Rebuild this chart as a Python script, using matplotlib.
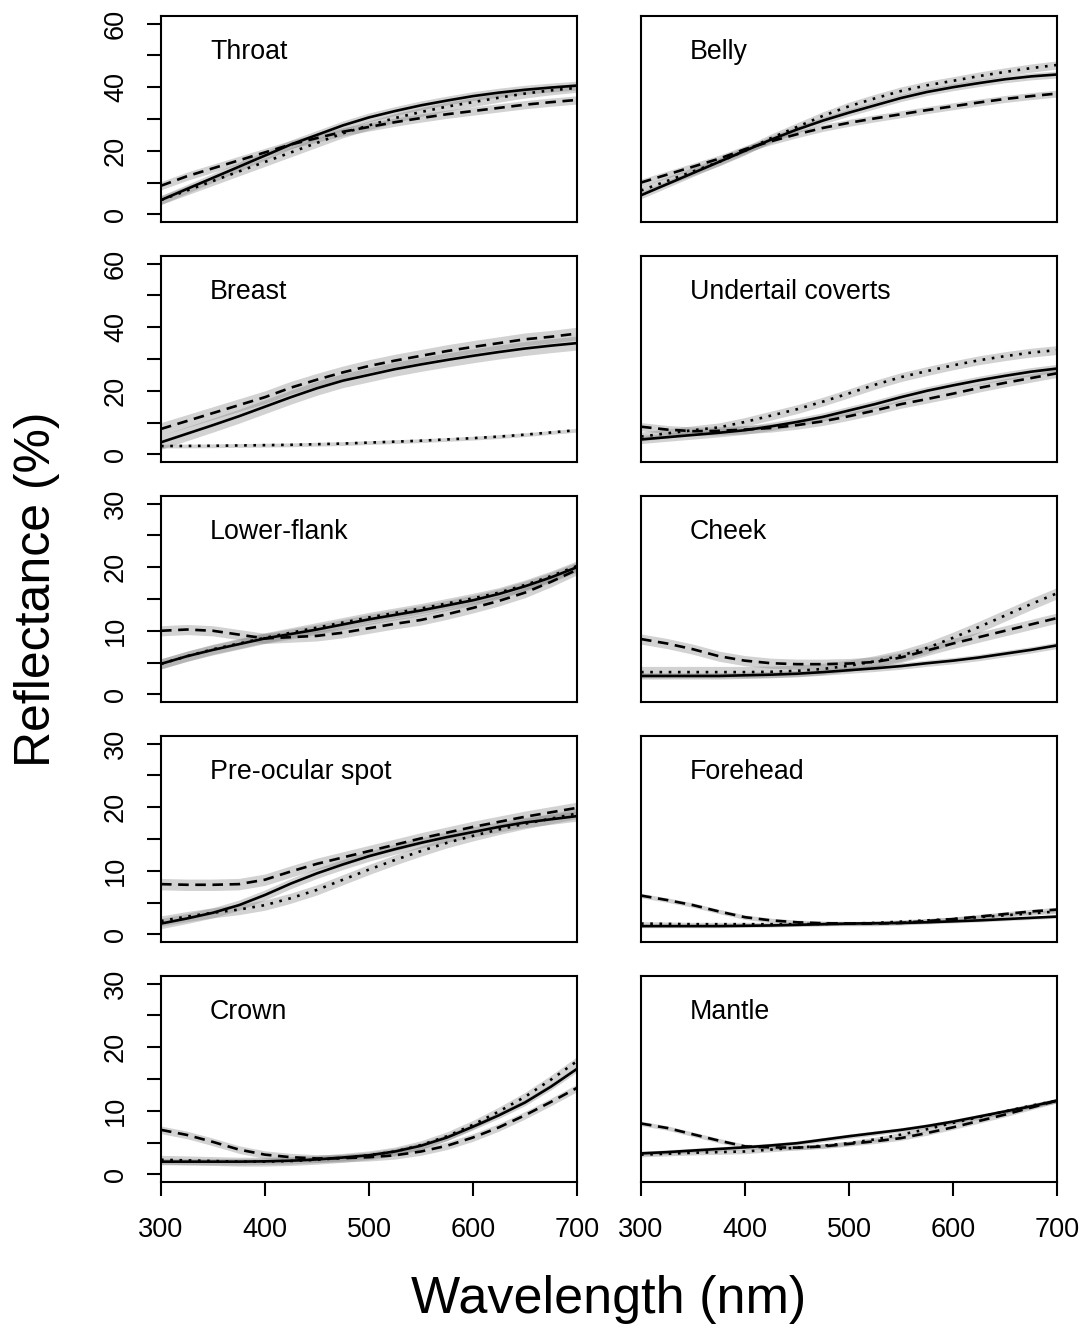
import matplotlib
matplotlib.use("Agg")
import matplotlib.pyplot as plt

plt.rcParams['font.family'] = ['Liberation Sans', 'DejaVu Sans']

# wavelengths sampled (nm)
wavelength = [300, 325, 350, 375, 400, 425, 450, 475, 500,
              525, 550, 575, 600, 625, 650, 675, 700]

# reflectance (%): solid / dashed / dotted groups
throat_solid = [4.5, 8, 11.5, 15, 18.5, 22, 25, 28, 30.5, 32.5, 34.3, 35.8, 37.2, 38.3, 39.2, 39.9, 40.5]
throat_dash = [9, 12, 14.5, 17, 19.5, 22, 24, 26, 27.5, 29, 30.3, 31.5, 32.5, 33.5, 34.5, 35.3, 36]
throat_dot = [4.5, 7.5, 10.5, 13.5, 16.5, 19.5, 22.5, 25.5, 28, 30.3, 32.2, 33.9, 35.3, 36.7, 38, 39, 39.8]

belly_solid = [6, 9.5, 13, 16.5, 20, 23.5, 26.7, 29.5, 32, 34.3, 36.6, 38.5, 40, 41.3, 42.5, 43.4, 44]
belly_dash = [10, 12.5, 15, 17.5, 20.5, 23, 25.2, 27.2, 28.8, 30.2, 31.5, 32.8, 34, 35.2, 36.3, 37.2, 38]
belly_dot = [7.5, 10.5, 13.5, 16.5, 20, 24, 27.5, 31, 34, 36.5, 38.8, 40.6, 42, 43.5, 44.8, 46, 47]

breast_solid = [3.8, 6.5, 9.2, 12, 15, 18, 20.8, 23.2, 25, 26.8, 28.3, 29.7, 31, 32.2, 33.3, 34.2, 35]
breast_dash = [8, 10.5, 13, 15.5, 18, 21, 23.5, 25.8, 27.8, 29.5, 31, 32.5, 33.8, 35, 36.2, 37, 38]
breast_dot = [2.6, 2.65, 2.7, 2.8, 2.9, 3.0, 3.2, 3.4, 3.7, 4.0, 4.3, 4.7, 5.1, 5.6, 6.2, 6.9, 7.6]

undertail_solid = [4.7, 5.4, 6.1, 6.8, 7.6, 8.8, 10.2, 11.8, 13.8, 15.8, 18, 20, 21.7, 23.3, 24.7, 26, 27]
undertail_dash = [8.7, 7.8, 7.3, 7.4, 7.8, 8.3, 9.2, 10.4, 12, 13.8, 15.8, 17.4, 19.1, 20.9, 22.5, 24, 25.5]
undertail_dot = [5.6, 6.6, 7.6, 8.5, 10.2, 12.2, 14.2, 16.6, 19.2, 21.9, 24.3, 26.2, 28, 29.6, 30.9, 32, 32.8]

lowerflank_solid = [4.8, 6.0, 7.0, 7.9, 8.8, 9.5, 10.2, 11.0, 11.8, 12.5, 13.2, 14.0, 14.8, 15.8, 17.0, 18.4, 20.0]
lowerflank_dash = [10, 10.2, 10.0, 9.4, 8.8, 9.0, 9.2, 9.7, 10.4, 11.1, 11.7, 12.6, 13.6, 14.7, 16.0, 17.7, 19.6]
lowerflank_dot = [4.8, 6.0, 7.1, 8.0, 8.9, 9.7, 10.5, 11.3, 12.1, 12.8, 13.5, 14.3, 15.1, 16.0, 17.2, 18.6, 20.2]

cheek_solid = [2.9, 2.9, 2.9, 2.9, 3.0, 3.1, 3.25, 3.5, 3.8, 4.1, 4.45, 4.9, 5.3, 5.8, 6.4, 7.0, 7.7]
cheek_dash = [8.7, 8.0, 7.1, 6.0, 5.3, 4.9, 4.75, 4.75, 4.85, 5.1, 5.8, 6.9, 8.0, 9.0, 10.0, 11.0, 12.0]
cheek_dot = [3.5, 3.5, 3.5, 3.5, 3.5, 3.55, 3.7, 4.0, 4.5, 5.2, 6.1, 7.3, 8.9, 10.6, 12.4, 14.2, 15.9]

preocular_solid = [1.7, 2.5, 3.4, 4.6, 6.2, 8.0, 9.6, 11.0, 12.3, 13.4, 14.4, 15.3, 16.1, 16.9, 17.6, 18.1, 18.6]
preocular_dash = [7.9, 7.8, 7.8, 7.9, 8.6, 9.9, 11.1, 12.1, 13.1, 14.1, 15.1, 16.0, 16.9, 17.7, 18.5, 19.2, 19.9]
preocular_dot = [2.1, 2.8, 3.4, 3.9, 4.6, 5.7, 7.0, 8.6, 10.2, 11.7, 13.1, 14.4, 15.5, 16.5, 17.4, 18.2, 19.0]

forehead_solid = [1.3, 1.3, 1.3, 1.3, 1.35, 1.4, 1.5, 1.6, 1.7, 1.75, 1.8, 1.9, 2.05, 2.2, 2.4, 2.6, 2.8]
forehead_dash = [6.1, 5.4, 4.6, 3.6, 2.7, 2.2, 1.9, 1.75, 1.7, 1.7, 1.8, 2.1, 2.4, 2.8, 3.2, 3.6, 3.9]
forehead_dot = [1.7, 1.65, 1.6, 1.6, 1.6, 1.6, 1.6, 1.65, 1.7, 1.8, 2.0, 2.2, 2.4, 2.7, 3.0, 3.3, 3.6]

crown_solid = [2.0, 2.0, 2.0, 2.0, 2.05, 2.15, 2.35, 2.65, 3.0, 3.6, 4.5, 5.8, 7.5, 9.3, 11.3, 13.8, 16.6]
crown_dash = [7.0, 6.2, 5.1, 3.9, 3.1, 2.7, 2.5, 2.55, 2.7, 3.0, 3.6, 4.5, 5.8, 7.4, 9.3, 11.4, 13.6]
crown_dot = [2.3, 2.2, 2.1, 2.0, 2.0, 2.1, 2.3, 2.6, 3.0, 3.6, 4.6, 6.0, 7.8, 9.9, 12.2, 14.9, 17.8]

mantle_solid = [3.3, 3.5, 3.75, 4.0, 4.25, 4.55, 4.9, 5.45, 6.0, 6.5, 7.0, 7.6, 8.3, 9.1, 9.9, 10.7, 11.6]
mantle_dash = [8.0, 7.3, 6.3, 5.3, 4.4, 4.25, 4.2, 4.4, 4.8, 5.2, 5.7, 6.5, 7.4, 8.4, 9.4, 10.5, 11.6]
mantle_dot = [3.1, 3.25, 3.4, 3.5, 3.6, 3.9, 4.2, 4.5, 4.9, 5.5, 6.25, 7.1, 8.1, 9.0, 9.9, 10.8, 11.6]

# half-width of the grey bands (solid, dashed, dotted)
band_throat = [1.4, 1.3, 1.4]
band_belly = [1.1, 1.1, 1.3]
band_breast = [2.2, 2.0, 0.6]
band_undertail = [1.3, 1.3, 1.4]
band_lowerflank = [0.8, 0.8, 0.8]
band_cheek = [0.5, 0.8, 0.9]
band_preocular = [0.8, 0.9, 0.8]
band_forehead = [0.25, 0.35, 0.3]
band_crown = [0.5, 0.6, 0.7]
band_mantle = [0.35, 0.35, 0.35]

panel_names = ["Throat", "Belly", "Breast", "Undertail coverts", "Lower-flank",
               "Cheek", "Pre-ocular spot", "Forehead", "Crown", "Mantle"]
panel_series = [
    (throat_solid, throat_dash, throat_dot),
    (belly_solid, belly_dash, belly_dot),
    (breast_solid, breast_dash, breast_dot),
    (undertail_solid, undertail_dash, undertail_dot),
    (lowerflank_solid, lowerflank_dash, lowerflank_dot),
    (cheek_solid, cheek_dash, cheek_dot),
    (preocular_solid, preocular_dash, preocular_dot),
    (forehead_solid, forehead_dash, forehead_dot),
    (crown_solid, crown_dash, crown_dot),
    (mantle_solid, mantle_dash, mantle_dot),
]
panel_bands = [band_throat, band_belly, band_breast, band_undertail, band_lowerflank,
               band_cheek, band_preocular, band_forehead, band_crown, band_mantle]
panel_ymax = [60, 60, 60, 60, 30, 30, 30, 30, 30, 30]

styles = ['-', (0, (4, 2.5)), (0, (1, 2.5))]

W, H = 1082, 1328
fig = plt.figure(figsize=(W / 100, H / 100), dpi=100)

col_x = [161, 641]
row_top = [16, 256, 496, 736, 976]
pw, ph = 416, 206

for i, name in enumerate(panel_names):
    r, c = divmod(i, 2)
    ax = fig.add_axes([col_x[c] / W, 1 - (row_top[r] + ph) / H, pw / W, ph / H])
    for ys, hw in zip(panel_series[i], panel_bands[i]):
        lo = [y - hw for y in ys]
        hi = [y + hw for y in ys]
        ax.fill_between(wavelength, lo, hi, color='0.5', alpha=0.35, lw=0)
    for ys, st in zip(panel_series[i], styles):
        ax.plot(wavelength, ys, color='black', lw=1.9, ls=st)

    ymax = panel_ymax[i]
    ax.set_xlim(300, 700)
    ax.set_ylim(-0.04 * ymax, 1.04 * ymax)
    for sp in ax.spines.values():
        sp.set_linewidth(1.5)

    ax.text(0.118, 0.79, name, transform=ax.transAxes, fontsize=19.3, va='baseline', ha='left')

    if c == 0:
        step = ymax // 6
        yt = list(range(0, ymax + 1, step))
        ax.set_yticks(yt)
        ax.set_yticklabels([str(v) if k % 2 == 0 else '' for k, v in enumerate(yt)],
                           rotation=90, va='center')
        ax.tick_params(axis='y', length=10, width=1.5, pad=13, labelsize=19.5)
    else:
        ax.set_yticks([])

    if r == 4:
        ax.set_xticks([300, 400, 500, 600, 700])
        ax.tick_params(axis='x', length=10, width=1.5, pad=15, labelsize=19.5)
    else:
        ax.set_xticks([])

fig.text(37 / W, 1 - 589 / H, 'Reflectance (%)', rotation=90, fontsize=36,
         ha='center', va='center')
fig.text(609 / W, 1 - 1299 / H, 'Wavelength (nm)', fontsize=37.5,
         ha='center', va='center')

fig.savefig('out.png', dpi=100)
